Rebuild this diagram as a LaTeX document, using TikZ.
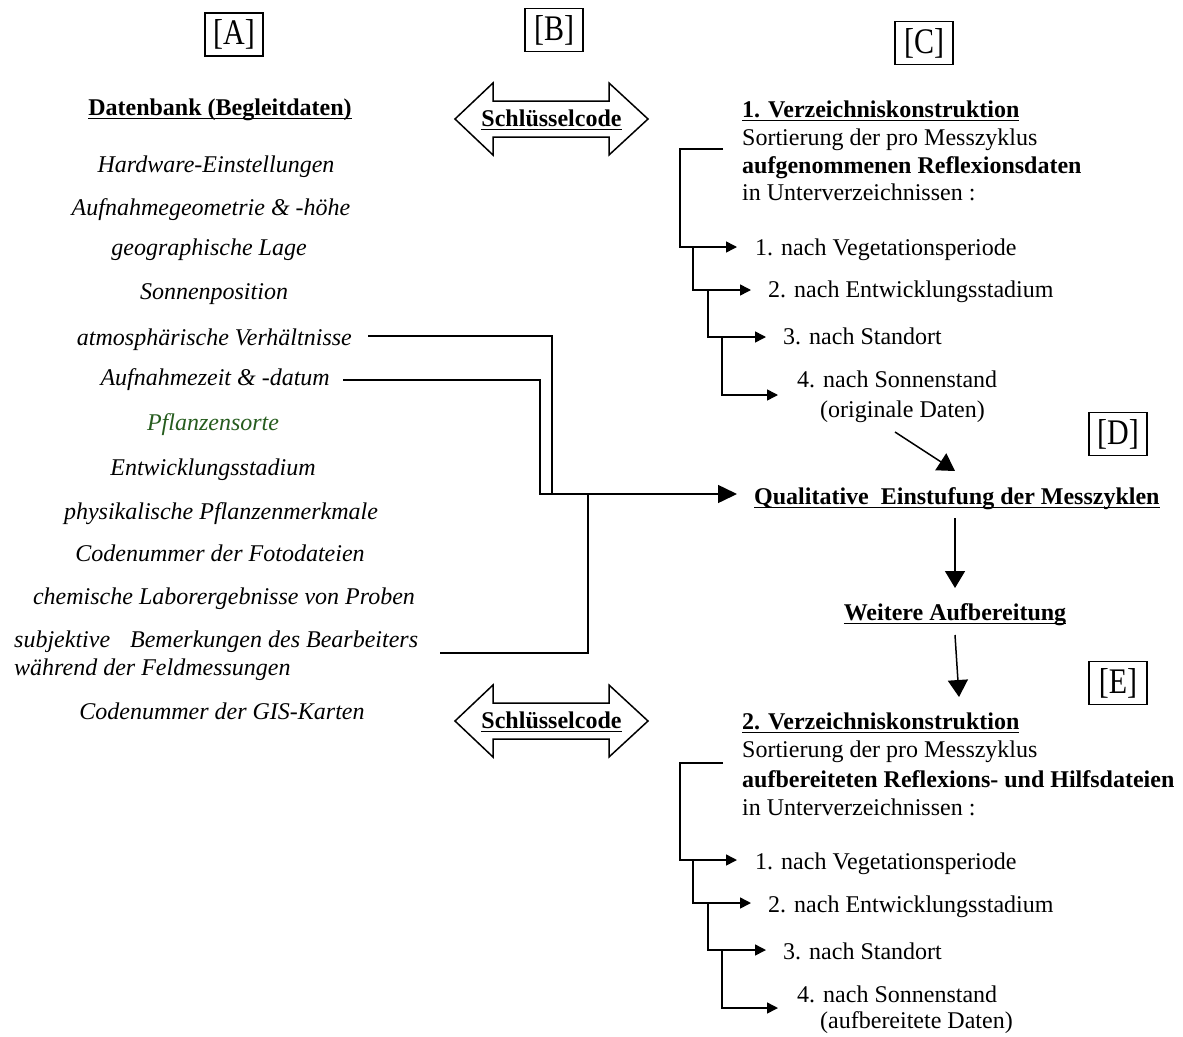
\documentclass[tikz,border=0pt]{standalone}
\usepackage{fontspec}
\usepackage{graphicx}
\setmainfont{Liberation Serif}
\usetikzlibrary{arrows.meta}
\definecolor{plantgreen}{RGB}{38,92,30}
\newcommand\ulbar[1]{\setbox0=\hbox{#1}\rlap{\rule[-3.5pt]{\wd0}{1.4pt}}\box0}
\newcommand\dblarr[1]{\draw[dbl] ([shift={(-96.5,0)}]#1) -- ([shift={(-58.5,-36)}]#1) -- ([shift={(-58.5,-18)}]#1) -- ([shift={(57.5,-18)}]#1) -- ([shift={(57.5,-36)}]#1) -- ([shift={(96.5,0)}]#1) -- ([shift={(57.5,36)}]#1) -- ([shift={(57.5,18)}]#1) -- ([shift={(-58.5,18)}]#1) -- ([shift={(-58.5,36)}]#1) -- cycle;}
\begin{document}
\begin{tikzpicture}[x=1pt,y=-1pt,
  txt/.style={inner sep=0pt, yshift=-5.5pt, font=\fontsize{24}{28}\selectfont},
  itxt/.style={inner sep=0pt, yshift=-5.5pt, font=\fontsize{24}{28}\selectfont\itshape},
  btxt/.style={inner sep=0pt, yshift=-5.5pt, font=\fontsize{24}{28}\selectfont\bfseries},
  lbl/.style={draw, line width=1.6pt, minimum width=58pt, minimum height=43pt, inner sep=0pt, font=\fontsize{30}{30}\selectfont},
  conn/.style={line width=1.5pt},
  tarr/.style={line width=1.5pt, -{Triangle[length=11pt,width=11pt]}},
  marr/.style={line width=1.5pt, -{Triangle[length=19pt,width=18pt]}},
  darr/.style={line width=1.5pt, -{Triangle[length=17pt,width=20pt]}},
  dbl/.style={draw, line width=1.5pt, line join=miter}
]
\useasboundingbox (0,0) rectangle (1183,1036);

% labels
\node[lbl] (A) at (234,34.5) {\scalebox{1}[1.2]{[A]}};
\node[lbl] (B) at (554,30) {\scalebox{1}[1.2]{[B]}};
\node[lbl] (C) at (924,43) {\scalebox{1}[1.2]{[C]}};
\node[lbl] (D) at (1118,434) {\scalebox{1}[1.2]{[D]}};
\node[lbl] (E) at (1118,683) {\scalebox{1}[1.2]{[E]}};

% left column
\node[btxt, anchor=mid] (db) at (220,108) {\ulbar{Datenbank (Begleitdaten)}};
\node[itxt, anchor=mid] (l1) at (216,165) {Hardware-Einstellungen};
\node[itxt, anchor=mid] (l2) at (211,208) {Aufnahmegeometrie \& -höhe};
\node[itxt, anchor=mid] (l3) at (209,248) {geographische Lage};
\node[itxt, anchor=mid] (l4) at (214,292) {Sonnenposition};
\node[itxt, anchor=mid east] (l5) at (352,338) {atmosphärische Verhältnisse};
\node[itxt, anchor=mid east] (l6) at (330,378) {Aufnahmezeit \& -datum};
\node[itxt, anchor=mid, text=plantgreen] (l7) at (213,423) {Pflanzensorte};
\node[itxt, anchor=mid] (l8) at (213,468) {Entwicklungsstadium};
\node[itxt, anchor=mid] (l9) at (221,512) {physikalische Pflanzenmerkmale};
\node[itxt, anchor=mid] (l10) at (220,554) {Codenummer der Fotodateien};
\node[itxt, anchor=mid] (l11) at (224,597) {chemische Laborergebnisse von Proben};
\node[itxt, anchor=mid west] (l12) at (14,640) {subjektive\hspace{14pt} Bemerkungen des Bearbeiters};
\node[itxt, anchor=mid west] (l13) at (14,668) {während der Feldmessungen};
\node[itxt, anchor=mid] (l14) at (222,712) {Codenummer der GIS-Karten};

% Schluesselcode arrows
\coordinate (k1) at (551.5,119);
\coordinate (k2) at (551.5,721);
\dblarr{k1}
\dblarr{k2}
\node[btxt, anchor=mid] (sk1) at (k1) {\ulbar{Schlüsselcode}};
\node[btxt, anchor=mid] (sk2) at (k2) {\ulbar{Schlüsselcode}};

% C block
\node[btxt, anchor=mid west] (ch) at (742,110) {\ulbar{1. Verzeichniskonstruktion}};
\node[txt, anchor=mid west] (cs) at (742,138) {Sortierung der pro Messzyklus};
\node[btxt, anchor=mid west] (ca) at (742,166) {aufgenommenen Reflexionsdaten};
\node[txt, anchor=mid west] (cu) at (742,193) {in Unterverzeichnissen :};
\node[txt, anchor=mid west] (c1) at (755,248) {1. nach Vegetationsperiode};
\node[txt, anchor=mid west] (c2) at (768,290) {2. nach Entwicklungsstadium};
\node[txt, anchor=mid west] (c3) at (783,337) {3. nach Standort};
\node[txt, anchor=mid west] (c4) at (797,380) {4. nach Sonnenstand};
\node[txt, anchor=mid west] (c5) at (820,410) {(originale Daten)};

\coordinate (cb) at (723,149);
\coordinate (cv1) at (680,149);
\coordinate (ct1) at (737,247);
\coordinate (cv2) at (693,247);
\coordinate (ct2) at (751,290);
\coordinate (cv3) at (708,290);
\coordinate (ct3) at (766,337);
\coordinate (cv4) at (722,337);
\coordinate (ct4) at (778,395);
\draw[tarr] (cb) -- (cv1) |- (ct1);
\draw[tarr] (cv2) |- (ct2);
\draw[tarr] (cv3) |- (ct3);
\draw[tarr] (cv4) |- (ct4);

% E block
\node[btxt, anchor=mid west] (eh) at (742,722) {\ulbar{2. Verzeichniskonstruktion}};
\node[txt, anchor=mid west] (es) at (742,750) {Sortierung der pro Messzyklus};
\node[btxt, anchor=mid west] (ea) at (742,780) {aufbereiteten Reflexions- und Hilfsdateien};
\node[txt, anchor=mid west] (eu) at (742,808) {in Unterverzeichnissen :};
\node[txt, anchor=mid west] (e1) at (755,862) {1. nach Vegetationsperiode};
\node[txt, anchor=mid west] (e2) at (768,905) {2. nach Entwicklungsstadium};
\node[txt, anchor=mid west] (e3) at (783,952) {3. nach Standort};
\node[txt, anchor=mid west] (e4) at (797,995) {4. nach Sonnenstand};
\node[txt, anchor=mid west] (e5) at (820,1021) {(aufbereitete Daten)};

\coordinate (eb) at (723,763);
\coordinate (ev1) at (680,763);
\coordinate (et1) at (737,860);
\coordinate (ev2) at (693,860);
\coordinate (et2) at (751,903);
\coordinate (ev3) at (708,903);
\coordinate (et3) at (766,950);
\coordinate (ev4) at (722,950);
\coordinate (et4) at (778,1008);
\draw[tarr] (eb) -- (ev1) |- (et1);
\draw[tarr] (ev2) |- (et2);
\draw[tarr] (ev3) |- (et3);
\draw[tarr] (ev4) |- (et4);

% middle flow
\node[btxt, anchor=mid west] (q) at (754,497) {\ulbar{Qualitative\hspace{6pt} Einstufung der Messzyklen}};
\node[btxt, anchor=mid] (w) at (955,613) {\ulbar{Weitere Aufbereitung}};

\coordinate (s1) at (368,336);
\coordinate (s2) at (343,380);
\coordinate (s3) at (440,653);
\coordinate (j1) at (552,494);
\coordinate (j2) at (540,494);
\coordinate (j3) at (588,494);
\coordinate (qt) at (737,494);
\draw[conn] (s1) -| (j1);
\draw[conn] (s3) -| (j3);
\draw[marr] (s2) -| (j2) -- (qt);

\coordinate (da) at (895,432);
\coordinate (db2) at (955,471);
\draw[darr] (da) -- (db2);
\coordinate (qa) at (955,518);
\coordinate (qb) at (955,588);
\draw[darr] (qa) -- (qb);
\coordinate (wa) at (955,635);
\coordinate (wb) at (959,697);
\draw[darr] (wa) -- (wb);
\end{tikzpicture}
\end{document}
